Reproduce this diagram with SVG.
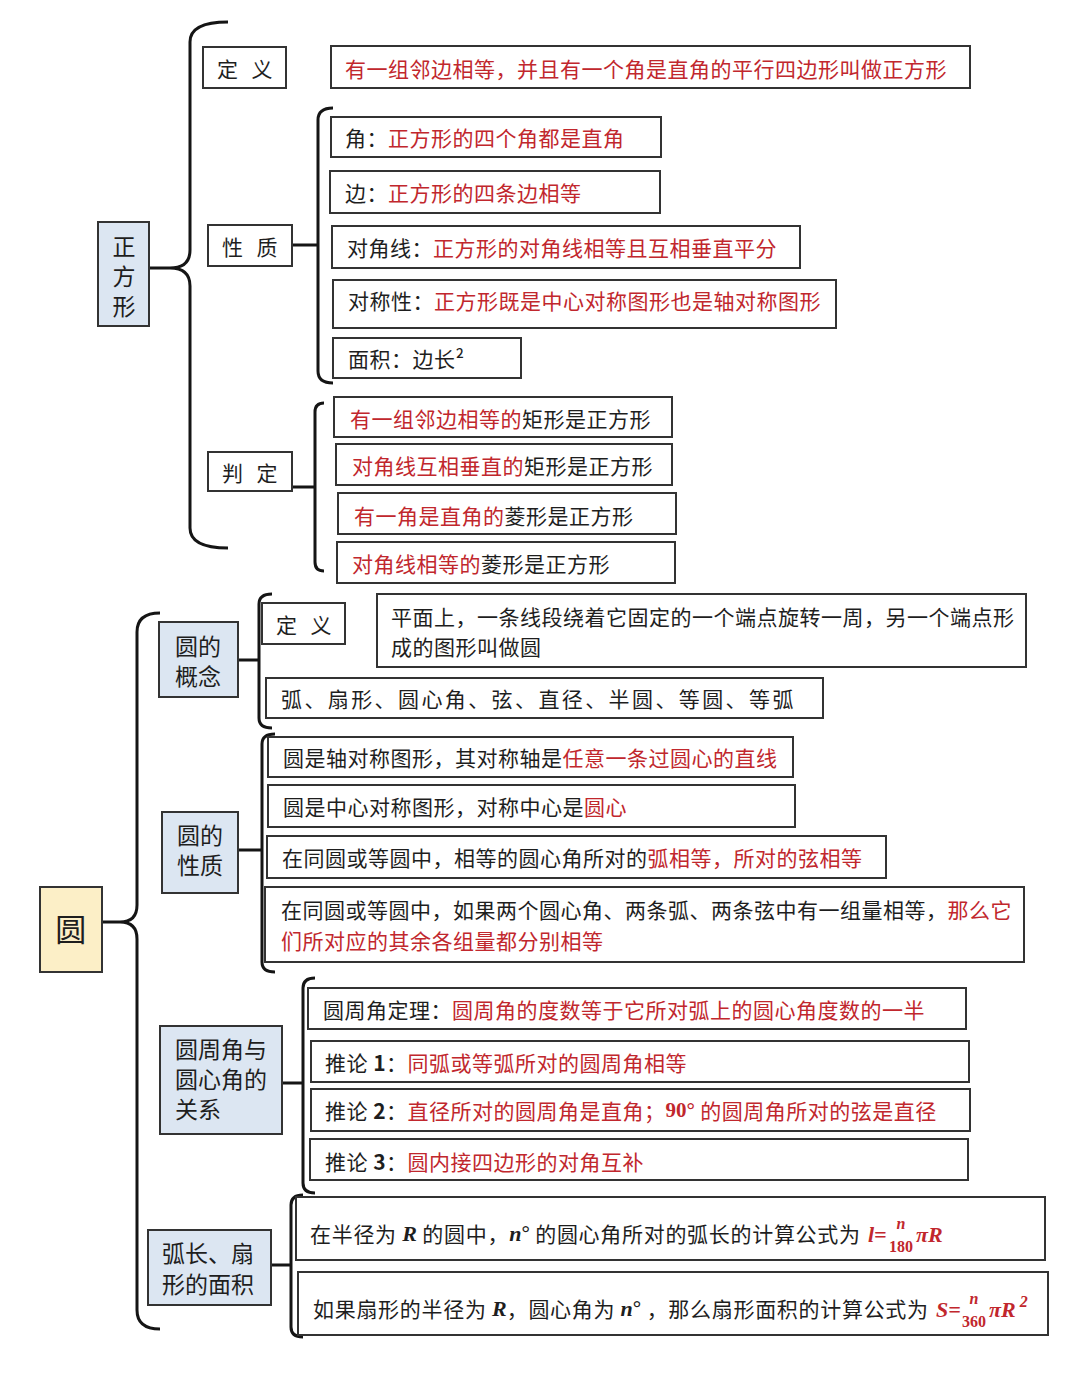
<svg xmlns="http://www.w3.org/2000/svg" width="1080" height="1377" viewBox="0 0 1080 1377">
<style>
.bg{fill:#fff}
.box{fill:#fff;stroke:#333;stroke-width:2}
.lab{fill:#dce6f2;stroke:#333;stroke-width:2}
.yel{fill:#fcefc7;stroke:#333;stroke-width:2}
.t{font-family:"Noto Sans CJK SC","Noto Sans",sans-serif;font-size:21px;letter-spacing:0.5px;fill:#1e1e1e;dominant-baseline:central}
.big{font-size:23px;letter-spacing:0}
.r{fill:#c1272d}
.m{font-family:"Liberation Serif",serif;font-weight:bold;font-style:italic;letter-spacing:0}
.mb{font-family:"Liberation Serif",serif;font-weight:bold;letter-spacing:0}
.s{font-size:16px}
.f{font-size:22px}
.br{fill:none;stroke:#151515;stroke-width:3}
</style>
<rect class="bg" width="1080" height="1377"/>

<g id="connectors">
  <path class="br" d="M228,22 Q190,22 190,42 L190,250 Q190,268 170,268 Q190,268 190,286 L190,528 Q190,548 228,548 M149,268 L170,268"/>
  <path class="br" d="M333,108 Q318,108 318,120 L318,371 Q318,383 333,383 M292,245 L318,245"/>
  <path class="br" d="M324,403 Q315,403 315,412 L315,562 Q315,571 324,571 M292,487 L315,487"/>
  <path class="br" d="M160,613 Q137,613 137,632 L137,905 Q137,922 120,922 Q137,922 137,939 L137,1310 Q137,1329 160,1329 M102,922 L120,922"/>
  <path class="br" d="M272,594 Q259,594 259,604 L259,718 Q259,728 272,728 M238,660 L259,660"/>
  <path class="br" d="M275,734 Q262,734 262,744 L262,962 Q262,972 275,972 M239,850 L262,850"/>
  <path class="br" d="M315,978 Q303,978 303,988 L303,1183 Q303,1193 315,1193 M283,1083 L303,1083"/>
  <path class="br" d="M303,1195 Q291,1195 291,1205 L291,1327 Q291,1337 303,1337 M271,1265 L291,1265"/>
</g>

<g id="square">
  <rect class="lab" x="98" y="222" width="51" height="104"/>
  <text class="t big" text-anchor="middle"><tspan x="124" y="245">正</tspan><tspan x="124" y="275">方</tspan><tspan x="124" y="305">形</tspan></text>
</g>

<g id="sq-def-label">
  <rect class="box" x="203" y="47" width="83" height="41"/>
  <text class="t" x="245" y="68" text-anchor="middle" word-spacing="8">定 义</text>
</g>
<g id="sq-def">
  <rect class="box" x="331" y="46" width="639" height="42"/>
  <text class="t r" x="345" y="68">有一组邻边相等，并且有一个角是直角的平行四边形叫做正方形</text>
</g>

<g id="sq-prop-label">
  <rect class="box" x="208" y="225" width="84" height="41"/>
  <text class="t" x="250" y="246" text-anchor="middle" word-spacing="8">性 质</text>
</g>
<g id="sq-prop1">
  <rect class="box" x="331" y="117" width="330" height="40"/>
  <text class="t" x="345" y="137">角：<tspan class="r">正方形的四个角都是直角</tspan></text>
</g>
<g id="sq-prop2">
  <rect class="box" x="330" y="171" width="330" height="42"/>
  <text class="t" x="345" y="192">边：<tspan class="r">正方形的四条边相等</tspan></text>
</g>
<g id="sq-prop3">
  <rect class="box" x="332" y="226" width="468" height="42"/>
  <text class="t" x="347" y="247">对角线：<tspan class="r">正方形的对角线相等且互相垂直平分</tspan></text>
</g>
<g id="sq-prop4">
  <rect class="box" x="333" y="280" width="503" height="48"/>
  <text class="t" x="348" y="300">对称性：<tspan class="r">正方形既是中心对称图形也是轴对称图形</tspan></text>
</g>
<g id="sq-prop5">
  <rect class="box" x="333" y="338" width="188" height="40"/>
  <text class="t" x="348" y="358">面积：边长²</text>
</g>

<g id="sq-judge-label">
  <rect class="box" x="208" y="452" width="84" height="39"/>
  <text class="t" x="250" y="472" text-anchor="middle" word-spacing="8">判 定</text>
</g>
<g id="sq-judge1">
  <rect class="box" x="334" y="397" width="338" height="40"/>
  <text class="t" x="350" y="418"><tspan class="r">有一组邻边相等的</tspan>矩形是正方形</text>
</g>
<g id="sq-judge2">
  <rect class="box" x="336" y="444" width="336" height="41"/>
  <text class="t" x="352" y="465"><tspan class="r">对角线互相垂直的</tspan>矩形是正方形</text>
</g>
<g id="sq-judge3">
  <rect class="box" x="338" y="493" width="338" height="41"/>
  <text class="t" x="354" y="515"><tspan class="r">有一角是直角的</tspan>菱形是正方形</text>
</g>
<g id="sq-judge4">
  <rect class="box" x="337" y="542" width="338" height="41"/>
  <text class="t" x="352" y="563"><tspan class="r">对角线相等的</tspan>菱形是正方形</text>
</g>

<g id="circle">
  <rect class="yel" x="40" y="887" width="62" height="85"/>
  <text class="t" x="71" y="927" text-anchor="middle" style="font-size:31px">圆</text>
</g>

<g id="c-concept-label">
  <rect class="lab" x="159" y="622" width="79" height="75"/>
  <text class="t big" text-anchor="middle"><tspan x="198" y="645">圆的</tspan><tspan x="198" y="675">概念</tspan></text>
</g>
<g id="c-def-label">
  <rect class="box" x="262" y="603" width="83" height="41"/>
  <text class="t" x="304" y="624" text-anchor="middle" word-spacing="8">定 义</text>
</g>
<g id="c-def">
  <rect class="box" x="377" y="594" width="649" height="73"/>
  <text class="t"><tspan x="391" y="616">平面上，一条线段绕着它固定的一个端点旋转一周，另一个端点形</tspan><tspan x="391" y="646">成的图形叫做圆</tspan></text>
</g>
<g id="c-terms">
  <rect class="box" x="266" y="678" width="557" height="40"/>
  <text class="t" x="281" y="698" style="letter-spacing:2.4px">弧、扇形、圆心角、弦、直径、半圆、等圆、等弧</text>
</g>

<g id="c-prop-label">
  <rect class="lab" x="162" y="812" width="76" height="81"/>
  <text class="t big" text-anchor="middle"><tspan x="200" y="834">圆的</tspan><tspan x="200" y="864">性质</tspan></text>
</g>
<g id="c-prop1">
  <rect class="box" x="268" y="737" width="525" height="40"/>
  <text class="t" x="283" y="757">圆是轴对称图形，其对称轴是<tspan class="r">任意一条过圆心的直线</tspan></text>
</g>
<g id="c-prop2">
  <rect class="box" x="268" y="785" width="527" height="42"/>
  <text class="t" x="283" y="806">圆是中心对称图形，对称中心是<tspan class="r">圆心</tspan></text>
</g>
<g id="c-prop3">
  <rect class="box" x="267" y="836" width="619" height="42"/>
  <text class="t" x="282" y="857">在同圆或等圆中，相等的圆心角所对的<tspan class="r">弧相等，所对的弦相等</tspan></text>
</g>
<g id="c-prop4">
  <rect class="box" x="265" y="887" width="759" height="75"/>
  <text class="t"><tspan x="281" y="909">在同圆或等圆中，如果两个圆心角、两条弧、两条弦中有一组量相等，</tspan><tspan class="r">那么它</tspan><tspan class="r" x="281" y="940">们所对应的其余各组量都分别相等</tspan></text>
</g>

<g id="c-angle-label">
  <rect class="lab" x="160" y="1026" width="122" height="108"/>
  <text class="t big"><tspan x="175" y="1048">圆周角与</tspan><tspan x="175" y="1078">圆心角的</tspan><tspan x="175" y="1108">关系</tspan></text>
</g>
<g id="c-angle1">
  <rect class="box" x="308" y="988" width="658" height="41"/>
  <text class="t" x="323" y="1009">圆周角定理：<tspan class="r">圆周角的度数等于它所对弧上的圆心角度数的一半</tspan></text>
</g>
<g id="c-angle2">
  <rect class="box" x="311" y="1041" width="658" height="41"/>
  <text class="t" x="325" y="1062">推论 <tspan font-weight="bold">1</tspan>：<tspan class="r">同弧或等弧所对的圆周角相等</tspan></text>
</g>
<g id="c-angle3">
  <rect class="box" x="311" y="1089" width="659" height="42"/>
  <text class="t" x="325" y="1110">推论 <tspan font-weight="bold">2</tspan>：<tspan class="r">直径所对的圆周角是直角；<tspan class="mb">90°</tspan>  的圆周角所对的弦是直径</tspan></text>
</g>
<g id="c-angle4">
  <rect class="box" x="310" y="1139" width="658" height="41"/>
  <text class="t" x="325" y="1161">推论 <tspan font-weight="bold">3</tspan>：<tspan class="r">圆内接四边形的对角互补</tspan></text>
</g>

<g id="c-arc-label">
  <rect class="lab" x="148" y="1230" width="123" height="75"/>
  <text class="t big"><tspan x="162" y="1252">弧长、扇</tspan><tspan x="162" y="1283">形的面积</tspan></text>
</g>
<g id="c-arc1">
  <rect class="box" x="296" y="1197" width="749" height="63"/>
  <text class="t" x="310" y="1233" style="letter-spacing:0.7px">在半径为 <tspan class="m f">R</tspan> 的圆中，<tspan class="m f">n</tspan><tspan class="mb">°</tspan> 的圆心角所对的弧长的计算公式为</text>
  <text class="t r m f" x="868" y="1234">l=</text>
  <text class="t r m s" x="901" y="1223" text-anchor="middle">n</text>
  <text class="t r mb s" x="901" y="1246" text-anchor="middle">180</text>
  <text class="t r m f" x="916" y="1234">πR</text>
</g>
<g id="c-arc2">
  <rect class="box" x="298" y="1272" width="750" height="63"/>
  <text class="t" x="313" y="1308" style="letter-spacing:0.7px">如果扇形的半径为 <tspan class="m f">R</tspan>，圆心角为 <tspan class="m f">n</tspan><tspan class="mb">°</tspan> ，那么扇形面积的计算公式为</text>
  <text class="t r m f" x="936" y="1309">S=</text>
  <text class="t r m s" x="974" y="1298" text-anchor="middle">n</text>
  <text class="t r mb s" x="974" y="1321" text-anchor="middle">360</text>
  <text class="t r m f" x="989" y="1309">πR<tspan class="s" dy="-8"> 2</tspan></text>
</g>
</svg>
